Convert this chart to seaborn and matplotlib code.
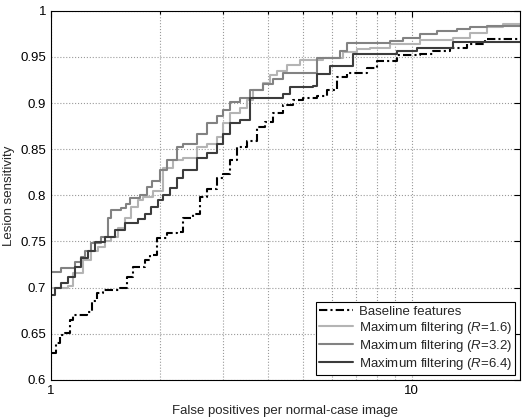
import matplotlib
matplotlib.use("Agg")
import matplotlib.pyplot as plt
import matplotlib.ticker as mticker
import seaborn as sns

# FROC curves: false positives per normal-case image vs. lesion sensitivity
baseline_fp = [1.0, 1.032, 1.059, 1.093, 1.129, 1.151, 1.258, 1.299, 1.341, 1.393,
               1.553, 1.624, 1.687, 1.821, 1.881, 1.966, 2.095, 2.234, 2.321, 2.473,
               2.586, 2.705, 2.883, 2.996, 3.131, 3.275, 3.491, 3.721, 3.915, 4.121,
               4.391, 4.681, 4.990, 5.456, 5.814, 6.198, 6.606, 7.505, 7.998, 9.087,
               10.52, 11.43, 12.74, 14.21, 15.93, 19.91]
baseline_sens = [0.629, 0.640, 0.649, 0.651, 0.665, 0.670, 0.674, 0.685, 0.694, 0.697,
                 0.700, 0.712, 0.722, 0.730, 0.735, 0.754, 0.759, 0.760, 0.776, 0.780,
                 0.798, 0.807, 0.819, 0.823, 0.838, 0.852, 0.859, 0.874, 0.880, 0.889,
                 0.898, 0.903, 0.906, 0.908, 0.914, 0.928, 0.933, 0.938, 0.946, 0.952,
                 0.953, 0.957, 0.960, 0.964, 0.970, 0.970]

r16_fp = [1.0, 1.115, 1.151, 1.226, 1.291, 1.350, 1.411, 1.466, 1.533, 1.603,
          1.666, 1.742, 1.799, 1.917, 2.043, 2.177, 2.321, 2.537, 2.705, 2.883,
          2.996, 3.131, 3.339, 3.491, 3.627, 3.867, 4.043, 4.227, 4.505, 4.895,
          5.668, 6.440, 7.041, 7.650, 8.690, 10.52, 12.99, 14.48, 16.13, 17.87, 19.91]
r16_sens = [0.700, 0.702, 0.716, 0.730, 0.740, 0.744, 0.751, 0.755, 0.765, 0.776,
            0.787, 0.795, 0.798, 0.805, 0.830, 0.838, 0.841, 0.852, 0.856, 0.863,
            0.878, 0.889, 0.895, 0.903, 0.914, 0.922, 0.930, 0.935, 0.941, 0.947,
            0.949, 0.955, 0.959, 0.960, 0.964, 0.968, 0.971, 0.976, 0.982, 0.986, 0.986]

r32_fp = [1.0, 1.066, 1.166, 1.211, 1.242, 1.291, 1.376, 1.438, 1.466, 1.563,
          1.614, 1.655, 1.765, 1.845, 1.905, 2.004, 2.095, 2.234, 2.321, 2.537,
          2.705, 2.883, 2.996, 3.131, 3.339, 3.558, 3.867, 4.121, 4.391, 5.456,
          6.318, 6.606, 8.690, 9.443, 10.52, 11.73, 13.32, 14.48, 16.13, 19.91]
r32_sens = [0.717, 0.721, 0.728, 0.733, 0.740, 0.748, 0.755, 0.776, 0.784, 0.786,
            0.791, 0.797, 0.800, 0.809, 0.816, 0.827, 0.838, 0.852, 0.856, 0.867,
            0.878, 0.886, 0.892, 0.901, 0.906, 0.914, 0.921, 0.926, 0.933, 0.949,
            0.957, 0.965, 0.967, 0.971, 0.975, 0.978, 0.980, 0.982, 0.984, 0.984]

r64_fp = [1.0, 1.026, 1.066, 1.115, 1.166, 1.211, 1.266, 1.324, 1.411, 1.504,
          1.603, 1.742, 1.821, 1.892, 1.979, 2.043, 2.136, 2.234, 2.321, 2.537,
          2.705, 2.883, 2.996, 3.131, 3.339, 3.558, 4.391, 4.592, 5.318, 5.456,
          5.929, 6.864, 9.087, 10.32, 12.99, 19.91]
r64_sens = [0.692, 0.700, 0.705, 0.711, 0.722, 0.732, 0.740, 0.749, 0.755, 0.762,
            0.770, 0.774, 0.780, 0.787, 0.795, 0.800, 0.808, 0.819, 0.827, 0.841,
            0.846, 0.856, 0.867, 0.878, 0.882, 0.906, 0.910, 0.917, 0.919, 0.932,
            0.940, 0.953, 0.957, 0.960, 0.966, 0.966]

labels = ["Baseline features",
          r"Maximum filtering ($\mathit{R}$=1.6)",
          r"Maximum filtering ($\mathit{R}$=3.2)",
          r"Maximum filtering ($\mathit{R}$=6.4)"]
colors = ["#000000", "#b4b4b4", "#828282", "#3c3c3c"]
y_ticks = [0.6, 0.65, 0.7, 0.75, 0.8, 0.85, 0.9, 0.95, 1.0]

sns.set_style("white")
plt.rcParams["font.family"] = ["Liberation Sans", "DejaVu Sans"]
plt.rcParams["mathtext.fontset"] = "custom"
plt.rcParams["mathtext.rm"] = "Liberation Sans"
plt.rcParams["mathtext.it"] = "Liberation Sans:italic"

fig = plt.figure(figsize=(5.25, 4.17), dpi=100)
ax = fig.add_axes([0.097, 0.089, 0.893, 0.885])

series = [(baseline_fp, baseline_sens), (r16_fp, r16_sens),
          (r32_fp, r32_sens), (r64_fp, r64_sens)]
for i, ((fp, sens), lab, col) in enumerate(zip(series, labels, colors)):
    kw = dict(dashes=(4, 1.5, 1, 1.5)) if i == 0 else {}
    sns.lineplot(x=fp, y=sens, ax=ax, color=col, lw=1.5, label=lab,
                 drawstyle="steps-post", estimator=None, sort=False, **kw)

ax.set_xscale("log")
ax.set_xlim(1, 19.91)
ax.set_ylim(0.6, 1.0)
ax.set_yticks(y_ticks)
ax.yaxis.set_major_formatter(mticker.FuncFormatter(lambda v, p: f"{v:g}"))
ax.xaxis.set_major_locator(mticker.LogLocator(base=10))
ax.xaxis.set_minor_locator(mticker.LogLocator(base=10, subs=range(2, 10)))
ax.xaxis.set_major_formatter(mticker.FuncFormatter(lambda v, p: f"{v:g}"))
ax.xaxis.set_minor_formatter(mticker.NullFormatter())

ax.grid(True, which="major", axis="both", color="#9a9a9a", ls=":", lw=0.8)
ax.grid(True, which="minor", axis="x", color="#9a9a9a", ls=":", lw=0.8)
ax.tick_params(which="both", direction="in", top=True, right=True,
               labelsize=9.5, colors="black", length=4, width=0.8)
ax.tick_params(which="minor", length=2.5)
for s in ax.spines.values():
    s.set_color("black")
    s.set_linewidth(0.8)

ax.set_xlabel("False positives per normal-case image", fontsize=9.5, labelpad=6)
ax.set_ylabel("Lesion sensitivity", fontsize=9.5, labelpad=4)

leg = ax.legend(loc="lower right", fontsize=9.5, frameon=True, fancybox=False,
                framealpha=1, edgecolor="black", handlelength=2.6,
                labelspacing=0.15, borderpad=0.25, borderaxespad=0.35,
                handletextpad=0.4)
leg.get_frame().set_linewidth(0.8)

fig.savefig("out.png", dpi=100)
